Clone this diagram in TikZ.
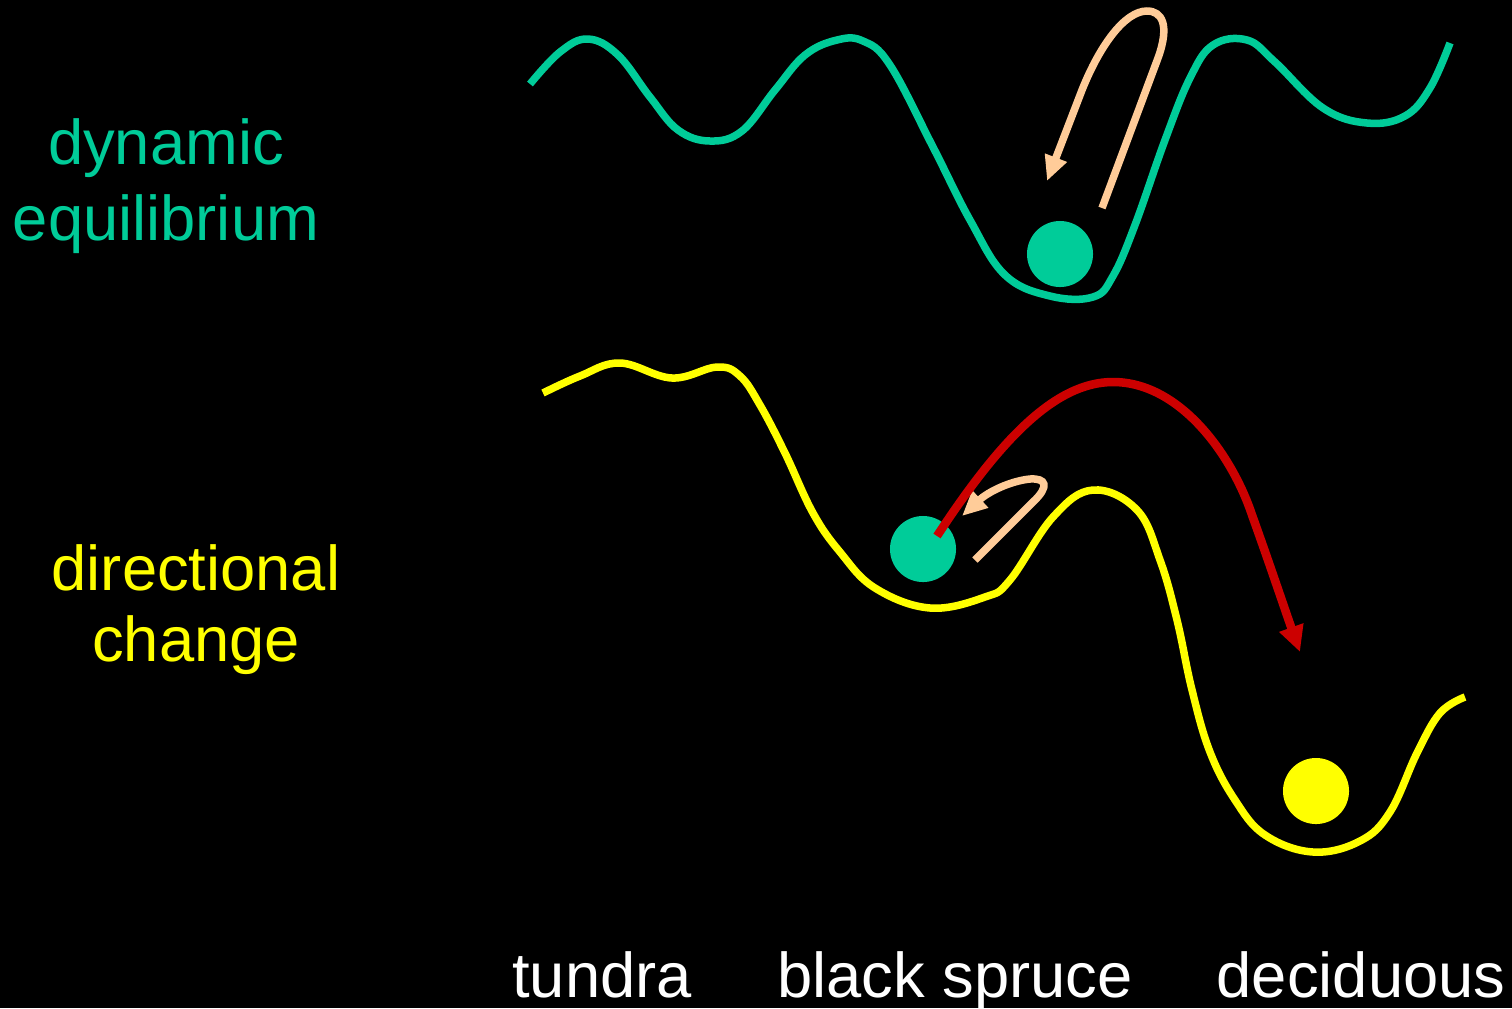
\documentclass[tikz,border=0pt]{standalone}
\usepackage{fontspec}
\setmainfont{Liberation Sans}
\usepackage{tikz}
\usetikzlibrary{arrows.meta,positioning}
\definecolor{seagreen}{HTML}{00CC99}
\definecolor{peach}{HTML}{FFCC99}
\definecolor{darkred}{HTML}{CC0000}
\definecolor{brightyellow}{HTML}{FFFF00}

\begin{document}
\begin{tikzpicture}[
  x=0.01cm, y=-0.01cm,
  every node/.style={font=\fontsize{18}{21}\selectfont},
  sidelabel/.style={align=center,anchor=base},
  ball/.style={circle,inner sep=0pt,minimum size=0.66cm},
  land/.style={line width=0.075cm,line join=round},
  nudge/.style={line width=0.075cm,color=peach,-{Triangle[length=0.25cm,width=0.22cm]}},
  leaparrow/.style={line width=0.085cm,color=darkred,-{Triangle[length=0.26cm,width=0.24cm]}}
]
\fill[black] (0,0) rectangle (1512,1008);
\useasboundingbox (0,0) rectangle (1512,1008);

% side labels
\node[sidelabel,text=seagreen,font=\fontsize{18}{21.5}\selectfont] (dyn) at (166,240) {dynamic\\equilibrium};
\node[sidelabel,text=brightyellow,font=\fontsize{18}{20}\selectfont] (dir) at (196,661) {directional\\change};

% vegetation labels
\node[anchor=base,text=white] (tundra) at (602,997) {tundra};
\node[anchor=base,text=white] (spruce) at (955,997) {black spruce};
\node[anchor=base,text=white] (decid) at (1361,997) {deciduous};

% upper landscape
\draw[land,seagreen] plot[smooth,tension=0.65] coordinates {
  (530,84) (560,52) (588,39) (618,55) (650,97) (678,130) (710,141)
  (742,131) (775,90) (805,55) (837,40) (863,41) (890,65) (933,147)
  (970,220) (1005,275) (1050,296) (1093,297) (1113,276) (1135,225)
  (1165,140) (1190,78) (1213,45) (1247,40) (1275,62) (1323,108)
  (1367,123) (1405,116) (1430,88) (1450,43)};

% lower landscape
\draw[land,brightyellow] plot[smooth,tension=0.65] coordinates {
  (543,393) (580,376) (620,363) (672,378) (717,367) (740,376) (760,405)
  (785,453) (813,513) (840,552) (875,588) (930,608) (985,597) (1010,580)
  (1053,517) (1093,490) (1137,510) (1160,560) (1177,620) (1192,690)
  (1210,752) (1235,800) (1265,835) (1313,852) (1360,841) (1390,812)
  (1417,753) (1440,713) (1465,697)};

% balls
\node[ball,fill=seagreen] (stable) at (1060,254) {};
\node[ball,fill=seagreen] (spruceball) at (923,549) {};
\node[ball,fill=brightyellow] (decidball) at (1316,791) {};

\coordinate (kickA) at (1102,208);
\coordinate (backA) at (1047,181);
\coordinate (kickB) at (975,560);
\coordinate (backB) at (962,516);
\coordinate (leapstart) at (937,536);
\coordinate (leap) at (1300,652);

% disturbance and return
\draw[nudge] (kickA) -- (1158,58) .. controls (1170,25) and (1162,11) .. (1147,11)
  .. controls (1125,11) and (1100,45) .. (1082,90) -- (backA);
\draw[nudge] (kickB) -- (1033,502) .. controls (1050,486) and (1046,478) .. (1030,479)
  .. controls (1010,481) and (988,492) .. (backB);

% threshold crossing
\draw[leaparrow] (leapstart) .. controls (1000,440) and (1055,382) .. (1113,382)
  .. controls (1180,382) and (1232,455) .. (1252,515) .. controls (1270,565) and (1285,610) .. (leap);
\end{tikzpicture}
\end{document}
